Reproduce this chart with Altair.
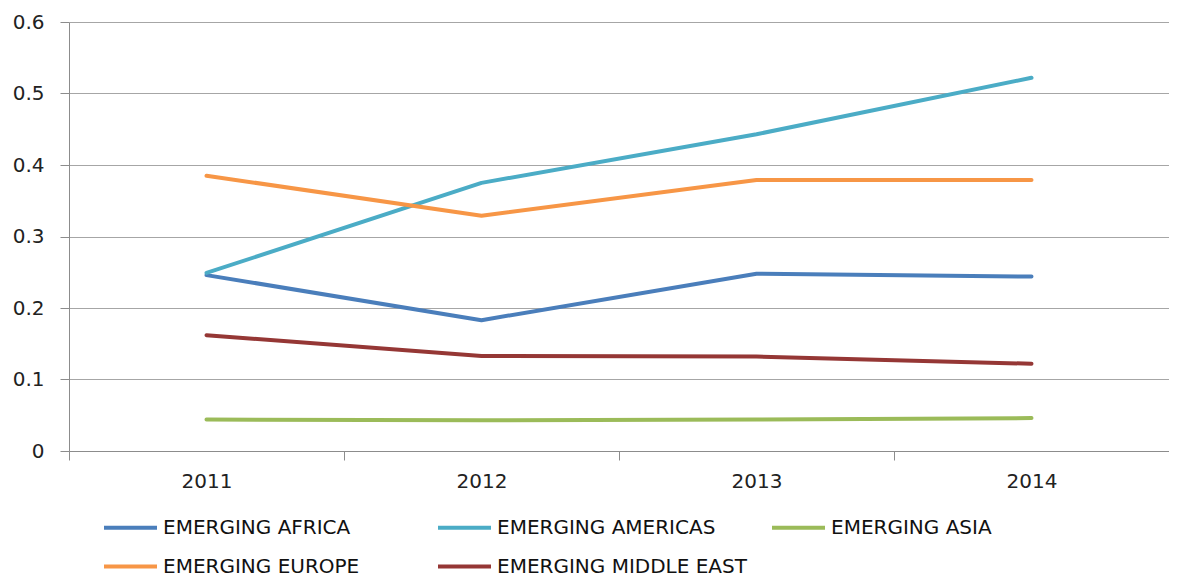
import altair as alt
import pandas as pd

years = ["2011", "2012", "2013", "2014"]
series_names = ["EMERGING AFRICA", "EMERGING AMERICAS", "EMERGING ASIA",
                "EMERGING EUROPE", "EMERGING MIDDLE EAST"]
africa = [0.246, 0.183, 0.248, 0.244]
americas = [0.249, 0.375, 0.443, 0.522]
asia = [0.044, 0.043, 0.044, 0.046]
europe = [0.385, 0.329, 0.379, 0.379]
middle_east = [0.162, 0.133, 0.132, 0.122]
colors = ["#4A7EBB", "#4BACC6", "#9BBB59", "#F79646", "#953735"]

rows = []
for name, vals in zip(series_names, [africa, americas, asia, europe, middle_east]):
    for y, v in zip(years, vals):
        rows.append({"year": y, "value": v, "series": name})
df = pd.DataFrame(rows)

FONT = "DejaVu Sans"

chart = alt.Chart(df).mark_line(strokeWidth=4, strokeCap="round", strokeJoin="round").encode(
    x=alt.X("year:O",
            scale=alt.Scale(type="band", paddingInner=0, paddingOuter=0),
            bandPosition=0.5,
            axis=alt.Axis(title=None, labelAngle=0, tickBand="extent", grid=False,
                          domainColor="#8c8c8c", tickColor="#8c8c8c", tickSize=9,
                          labelPadding=11, labelFontSize=20, labelFont=FONT,
                          labelColor="#222222")),
    y=alt.Y("value:Q",
            scale=alt.Scale(domain=[0, 0.6], nice=False),
            axis=alt.Axis(title=None, values=[0, 0.1, 0.2, 0.3, 0.4, 0.5, 0.6],
                          format="~g", grid=True, gridColor="#a6a6a6", gridWidth=1,
                          domainColor="#8c8c8c", tickColor="#8c8c8c", tickSize=9,
                          labelPadding=16, labelFontSize=20, labelFont=FONT,
                          labelColor="#222222")),
    color=alt.Color("series:N",
                    scale=alt.Scale(domain=series_names, range=colors),
                    legend=alt.Legend(title=None, orient="none", legendX=33, legendY=477,
                                      direction="horizontal",
                                      columns=3, gridAlign="all", symbolType="stroke",
                                      symbolSize=2809, symbolStrokeWidth=4,
                                      labelFontSize=20, labelFont=FONT, labelColor="#111111",
                                      labelOffset=4, columnPadding=17, rowPadding=-15,
                                      labelLimit=400, padding=0)),
).properties(
    width=1100, height=429,
    padding={"left": 61, "top": 14, "right": 0, "bottom": 127},
    autosize=alt.AutoSizeParams(type="none"),
).configure_view(stroke=None)

chart.save("out.html", embed_options={"renderer": "svg", "actions": False})
